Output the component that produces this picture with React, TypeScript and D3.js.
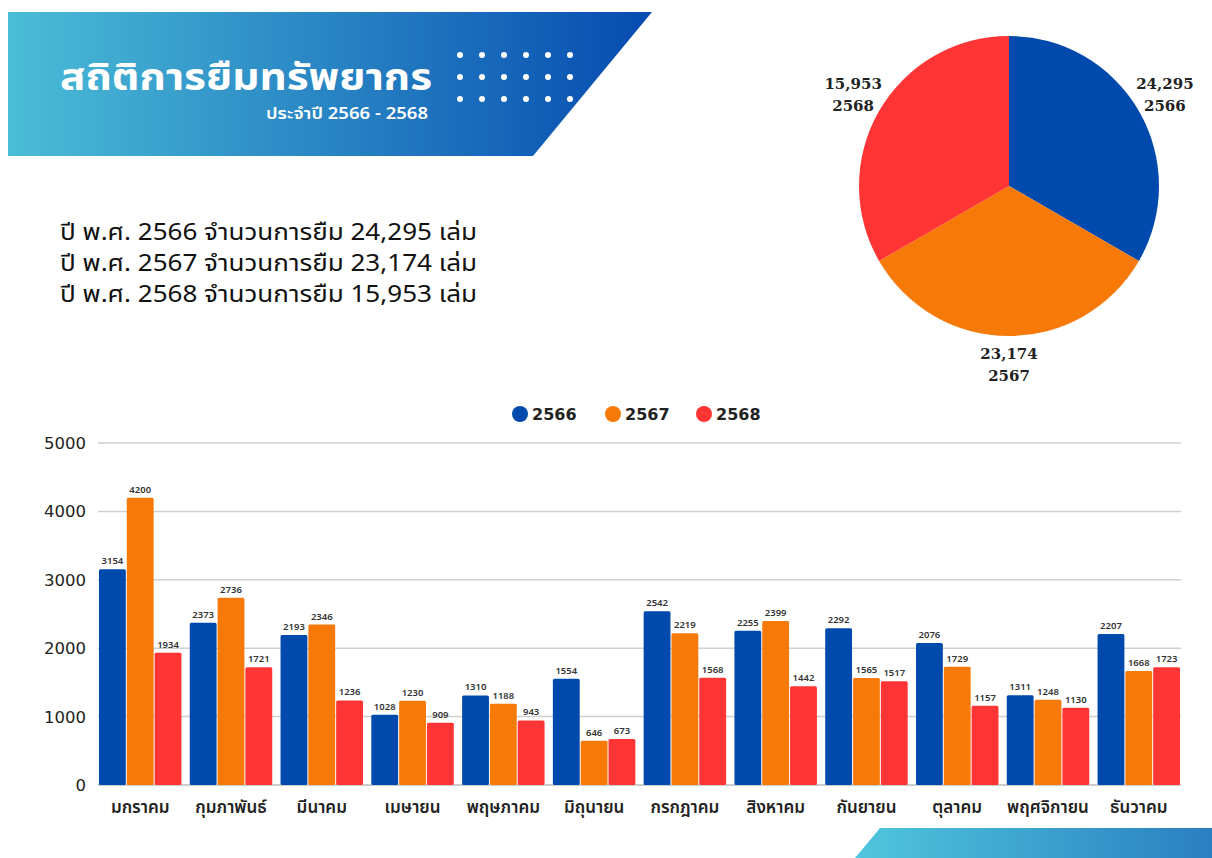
import React from "react";
import * as d3 from "d3";

const years = ["2566", "2567", "2568"];
const yearTotals = [24295, 23174, 15953];
const yearColors = ["#004aad", "#f77a08", "#ff3434"];

const months = [
  "มกราคม", "กุมภาพันธ์", "มีนาคม", "เมษายน", "พฤษภาคม", "มิถุนายน",
  "กรกฎาคม", "สิงหาคม", "กันยายน", "ตุลาคม", "พฤศจิกายน", "ธันวาคม",
];
const loans2566 = [3154, 2373, 2193, 1028, 1310, 1554, 2542, 2255, 2292, 2076, 1311, 2207];
const loans2567 = [4200, 2736, 2346, 1230, 1188, 646, 2219, 2399, 1565, 1729, 1248, 1668];
const loans2568 = [1934, 1721, 1236, 909, 943, 673, 1568, 1442, 1517, 1157, 1130, 1723];
const yTicks = [0, 1000, 2000, 3000, 4000, 5000];

const series = [loans2566, loans2567, loans2568];
const sans = "'Noto Sans', 'Noto Sans Thai', sans-serif";
const digits = "'DejaVu Sans', sans-serif";

const App = () => {
  const W = 1212;
  const H = 858;

  // bar chart
  const x0 = d3.scaleBand().domain(months).range([98, 1181]).paddingInner(0.07).paddingOuter(0);
  const x1 = d3.scaleBand().domain(years).range([0, x0.bandwidth()]).padding(0.035);
  const y = d3.scaleLinear().domain([0, 5000]).range([785, 443]);

  // pie: the source chart counted one row per year, so slices come out equal
  const pieData = d3.pie<number>().sort(null).value(() => 1)(yearTotals);
  const arc = d3.arc<d3.PieArcDatum<number>>().innerRadius(0).outerRadius(150);
  const labelArc = d3.arc<d3.PieArcDatum<number>>().innerRadius(180).outerRadius(180);

  const dotsX = d3.range(6).map((i) => 460 + i * 22);
  const dotsY = [55, 77, 99];

  return (
    <svg width={W} height={H} style={{ position: "absolute", left: 0, top: 0, background: "#fff" }}>
      <defs>
        <linearGradient id="hdr" x1="0" x2="1" y1="0" y2="0">
          <stop offset="0" stopColor="#4bbdd7" />
          <stop offset="1" stopColor="#064bb0" />
        </linearGradient>
        <linearGradient id="corner" x1="0" x2="1" y1="0" y2="0">
          <stop offset="0" stopColor="#50c6dd" />
          <stop offset="1" stopColor="#2a7fc1" />
        </linearGradient>
      </defs>

      {/* header banner */}
      <path d="M8,12 L652,12 L533,156 L8,156 Z" fill="url(#hdr)" />
      <text x={60} y={90} fill="#fff" fontFamily={sans} fontWeight={700} fontSize={38}
        textLength={372} lengthAdjust="spacingAndGlyphs">
        สถิติการยืมทรัพยากร
      </text>
      <text x={266} y={119} fill="#fff" fontFamily={sans} fontWeight={600} fontSize={16}
        textLength={162} lengthAdjust="spacingAndGlyphs">
        ประจำปี 2566 - 2568
      </text>
      {dotsY.map((dy) =>
        dotsX.map((dx) => <circle key={dx + "-" + dy} cx={dx} cy={dy} r={3} fill="#fff" />)
      )}

      {/* summary text */}
      {years.map((yr, i) => (
        <text key={yr} x={60} y={240} dy={i * 31} fontFamily={sans} fontSize={23} fill="#111"
          textLength={417} lengthAdjust="spacingAndGlyphs">
          {`ปี พ.ศ. ${yr} จำนวนการยืม ${d3.format(",")(yearTotals[i])} เล่ม`}
        </text>
      ))}

      {/* pie */}
      <g transform="translate(1009,186)">
        {pieData.map((d, i) => (
          <path key={i} d={arc(d) || ""} fill={yearColors[i]} />
        ))}
        {pieData.map((d, i) => {
          const [cx, cy] = labelArc.centroid(d);
          return (
            <text key={"l" + i} x={cx} y={cy} textAnchor="middle" fontFamily="'DejaVu Serif', serif"
              fontWeight={700} fontSize={15} fill="#222">
              <tspan x={cx} dy={-7}>{d3.format(",")(d.data)}</tspan>
              <tspan x={cx} dy={22}>{years[i]}</tspan>
            </text>
          );
        })}
      </g>

      {/* legend */}
      {years.map((yr, i) => {
        const lx = [520, 613, 704][i];
        return (
          <g key={yr}>
            <circle cx={lx} cy={414} r={8} fill={yearColors[i]} />
            <text x={lx + 12} y={420} fontFamily={digits} fontWeight={600} fontSize={16} fill="#222">{yr}</text>
          </g>
        );
      })}

      {/* grid + y labels */}
      {yTicks.map((t) => (
        <g key={t}>
          <line x1={98} x2={1181} y1={y(t)} y2={y(t)} stroke={t === 0 ? "#bbb" : "#cfcfcf"} strokeWidth={1.5} />
          <text x={86} y={y(t) + 6} textAnchor="end" fontFamily={digits} fontWeight={500} fontSize={16.5} fill="#222">
            {t}
          </text>
        </g>
      ))}

      {/* bars */}
      {months.map((m, mi) => (
        <g key={m} transform={`translate(${x0(m)},0)`}>
          {series.map((s, si) => {
            const bx = x1(years[si])!;
            const v = s[mi];
            return (
              <g key={si}>
                <rect x={bx} y={y(v)} width={x1.bandwidth()} height={785 - y(v)} rx={1.5}
                  fill={yearColors[si]} />
                <text x={bx + x1.bandwidth() / 2} y={y(v) - 5} textAnchor="middle" fontFamily={sans}
                  fontWeight={600} fontSize={9.5} fill="#333">{v}</text>
              </g>
            );
          })}
          <text x={x0.bandwidth() / 2} y={813} textAnchor="middle" fontFamily={sans} fontWeight={600}
            fontSize={17} fill="#222">{m}</text>
        </g>
      ))}

      {/* bottom-right decoration */}
      <path d="M880,828 L1212,828 L1212,858 L855,858 Z" fill="url(#corner)" />
    </svg>
  );
};

export default App;
